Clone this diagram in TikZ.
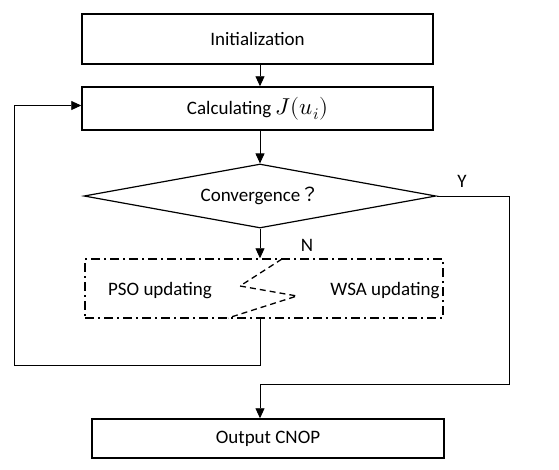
\documentclass[tikz,border=0pt]{standalone}
\usepackage{unicode-math}
\setmainfont{Carlito}
\setmathfont{Latin Modern Math}
\newfontfamily\cjk{Noto Sans CJK TC}
\usetikzlibrary{arrows.meta,shapes.geometric}

\begin{document}
\begin{tikzpicture}[x=1pt,y=-1pt,>={Triangle[length=10pt,width=9pt]},
  box/.style={draw,line width=1.5pt,inner sep=0pt,font=\fontsize{19}{22}\selectfont},
  txt/.style={font=\fontsize{19}{22}\selectfont},
  conn/.style={line width=0.9pt}]
\useasboundingbox (0,0) rectangle (559,469);
\node[box,minimum width=351pt,minimum height=50pt] (init) at (257.5,39) {Initialization};
\node[box,minimum width=351pt,minimum height=43pt] (calc) at (257.5,108.5) {Calculating {\fontsize{23}{26}\selectfont$J(u_i)$}};
\node[box,diamond,aspect=5.5,minimum width=352pt,minimum height=64pt,line width=1.2pt] (conv) at (260,196) {Convergence{\cjk ？}};
\node[draw,line width=1.5pt,dash pattern=on 9pt off 4pt on 2pt off 4pt,minimum width=358pt,minimum height=59pt] (upd) at (264,288.5) {};
\node[txt] (pso) at (160,291) {PSO updating};
\node[txt] (wsa) at (385,291) {WSA updating};
\node[box,minimum width=352pt,minimum height=39pt] (out) at (268,438.5) {Output CNOP};
\node[txt] (n) at (307,245) {N};
\node[txt] (y) at (462,181) {Y};
% zigzag between the two updates
\coordinate (z1) at (282,259);
\coordinate (z2) at (240,286);
\coordinate (z3) at (297,296);
\coordinate (z4) at (228,318);
\draw[line width=1.3pt,dash pattern=on 6pt off 4pt] (z1)--(z2)--(z3)--(z4);
% connectors
\coordinate (lp) at (14,365);
\coordinate (yr) at (509,384);
\draw[conn,->] (conv.north |- init.south) -- (conv.north |- calc.north);
\draw[conn,->] (conv.north |- calc.south) -- (conv.north);
\draw[conn,->] (conv.south) -- (conv.south |- upd.north);
\draw[conn,->] (conv.south |- upd.south) -- (conv.south |- lp) -- (lp) |- ([yshift=3pt]calc.west);
\draw[conn,->] (conv.east) -| (yr) -- (conv.south |- yr) -- (conv.south |- out.north);
\end{tikzpicture}
\end{document}
